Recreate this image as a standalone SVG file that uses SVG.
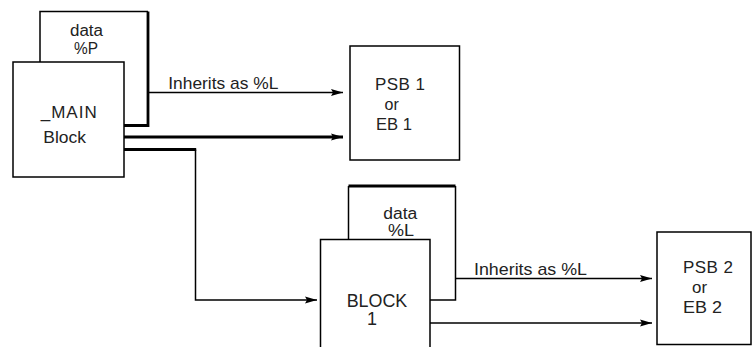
<svg xmlns="http://www.w3.org/2000/svg" width="754" height="347" viewBox="0 0 754 347">
  <style>
    .thin { fill: none; stroke: #000; stroke-width: 1.5; }
    .thick { fill: none; stroke: #000; stroke-width: 2.8; }
    .box { fill: #fff; stroke: #000; stroke-width: 1.5; }
    text { font-family: "Liberation Sans", Arial, sans-serif; font-size: 17px; fill: #222; }
    .big { font-size: 18px; }
    .small { font-size: 16px; }
  </style>
  <defs>
    <marker id="arr" markerUnits="userSpaceOnUse" markerWidth="13" markerHeight="8" refX="12" refY="4" orient="auto">
      <path d="M0,0.5 L12,4 L0,7.5 L2,4 z" fill="#000"/>
    </marker>
  </defs>
  <rect width="754" height="347" fill="#fff"/>

  <g id="data-p">
    <path class="thin" d="M40,62 V11.5 H148"/>
    <path class="thick" d="M148,11.5 V125.5 H124"/>
    <text class="small" x="70" y="36" textLength="33" lengthAdjust="spacingAndGlyphs">data</text>
    <text class="small" x="74" y="53.5" textLength="24" lengthAdjust="spacingAndGlyphs">%P</text>
  </g>

  <g id="main-block">
    <rect class="box" x="13" y="62" width="111" height="115"/>
    <text x="40.7" y="117.5" textLength="56" lengthAdjust="spacing">_MAIN</text>
    <text x="43.3" y="142.5" textLength="42.7" lengthAdjust="spacingAndGlyphs">Block</text>
  </g>

  <g id="psb1">
    <rect class="box" x="350" y="46" width="109.5" height="114"/>
    <text x="375" y="90" textLength="50" lengthAdjust="spacing">PSB 1</text>
    <text class="small" x="384.5" y="109.5">or</text>
    <text x="376" y="130" textLength="36" lengthAdjust="spacingAndGlyphs">EB 1</text>
  </g>

  <g id="data-l">
    <path class="thick" d="M348.5,186 H455.5"/>
    <path class="thin" d="M348.5,186 V239.5"/>
    <path class="thin" d="M455.5,186 V300 H430"/>
    <text class="small" x="383.3" y="218.8" textLength="34" lengthAdjust="spacingAndGlyphs">data</text>
    <text class="small" x="388" y="235.7" textLength="26" lengthAdjust="spacingAndGlyphs">%L</text>
  </g>

  <g id="block1">
    <path class="thin" d="M320.5,352 V239.5 H430 V352"/>
    <text class="big" x="346.7" y="306.7" textLength="60.6" lengthAdjust="spacingAndGlyphs">BLOCK</text>
    <text class="big" x="367" y="325">1</text>
  </g>

  <g id="psb2">
    <rect class="box" x="657" y="232" width="94" height="112.5"/>
    <text x="683" y="272.7" textLength="50" lengthAdjust="spacing">PSB 2</text>
    <text x="692" y="292.7" textLength="15" lengthAdjust="spacingAndGlyphs">or</text>
    <text x="683" y="313.3" textLength="39" lengthAdjust="spacingAndGlyphs">EB 2</text>
  </g>

  <g id="connectors">
    <path class="thin" d="M148,92.5 H343" marker-end="url(#arr)"/>
    <text x="168.3" y="89.3" textLength="110" lengthAdjust="spacingAndGlyphs">Inherits as %L</text>
    <path class="thick" d="M124,137 H343" marker-end="url(#arr)"/>
    <path class="thick" d="M124,149.5 H196.2"/>
    <path class="thin" d="M195.5,149.5 V300 H317" marker-end="url(#arr)"/>
    <path class="thin" d="M455.5,278.5 H652" marker-end="url(#arr)"/>
    <text x="474" y="275" textLength="113" lengthAdjust="spacingAndGlyphs">Inherits as %L</text>
    <path class="thin" d="M430,323 H652" marker-end="url(#arr)"/>
  </g>
</svg>
